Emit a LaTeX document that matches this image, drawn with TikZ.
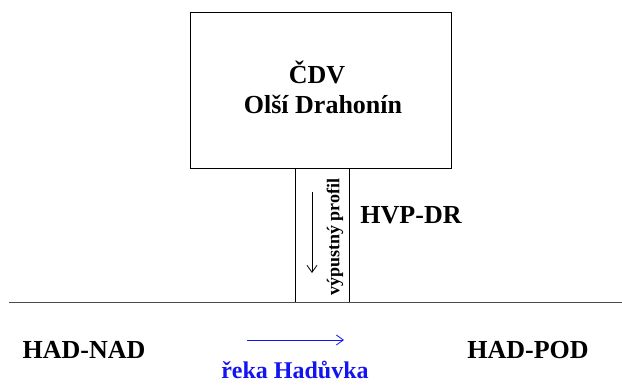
\documentclass[tikz,border=0pt]{standalone}
\usepackage{fontspec}
\setmainfont{Liberation Serif}
\usetikzlibrary{arrows.meta}
\definecolor{riverblue}{RGB}{20,20,240}
\begin{document}
\begin{tikzpicture}[x=1pt,y=1pt,
  lbl/.style={font=\fontsize{26}{29}\selectfont\bfseries, inner sep=0pt},
  thinarrow/.style={-{Straight Barb[length=7pt,width=10pt,line width=0.8pt]}, line width=0.8pt}]
\useasboundingbox (0,0) rectangle (622,385);
\fill[white] (0,0) rectangle (622,385);
\node[draw, line width=0.9pt, minimum width=261pt, minimum height=156pt, inner sep=0pt] (box) at (320.5,295) {};
\node[lbl] (cdv) at (317,313) {ČDV};
\node[lbl] (olsi) at (323,281) {Olší Drahonín};
\coordinate (ct1) at (295,217);
\coordinate (ct2) at (349,217);
\coordinate (cb1) at (295,83);
\coordinate (cb2) at (349,83);
\coordinate (riverL) at (9,83);
\coordinate (riverR) at (622,83);
\draw[line width=0.9pt] (ct1) -- (cb1) (ct2) -- (cb2);
\draw[line width=0.9pt, black!70] (riverL) -- (riverR);
\coordinate (a1) at (312,193);
\coordinate (a2) at (312,112);
\draw[thinarrow] (a1) -- (a2);
\node[font=\fontsize{18}{20}\selectfont\bfseries, rotate=90, inner sep=0pt] (vp) at (335,148) {výpustný profil};
\node[lbl] (hvp) at (411,170) {HVP-DR};
\node[lbl] (nad) at (84,35) {HAD-NAD};
\node[lbl] (pod) at (528,35) {HAD-POD};
\coordinate (b1) at (247,45);
\coordinate (b2) at (344,45);
\draw[thinarrow, riverblue] (b1) -- (b2);
\node[lbl, font=\fontsize{24}{26}\selectfont\bfseries, text=riverblue] (reka) at (295,15) {řeka Hadůvka};
\end{tikzpicture}
\end{document}
